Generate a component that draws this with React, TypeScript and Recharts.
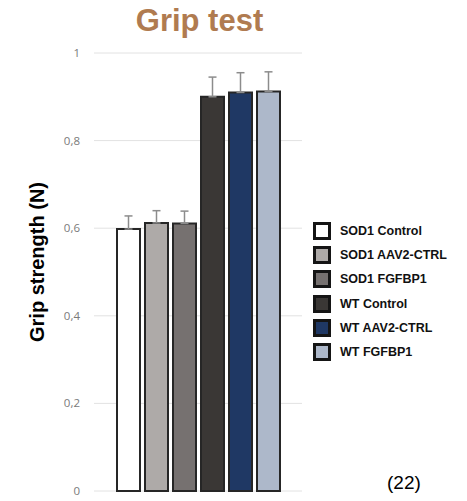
import { BarChart, Bar, XAxis, YAxis, CartesianGrid, ErrorBar } from "recharts";

const groups = [
  "SOD1 Control",
  "SOD1 AAV2-CTRL",
  "SOD1 FGFBP1",
  "WT Control",
  "WT AAV2-CTRL",
  "WT FGFBP1",
];
const means = [0.598, 0.612, 0.611, 0.9, 0.91, 0.912];
const errors = [0.03, 0.028, 0.028, 0.045, 0.045, 0.045];
const yTicks = [0, 0.2, 0.4, 0.6, 0.8, 1];

const fills = ["#ffffff", "#aeaaa8", "#767170", "#3a3735", "#1f3864", "#adb8ca"];

const row: Record<string, number | number[] | string> = { name: "Grip" };
groups.forEach((g, i) => {
  row[`s${i}`] = means[i];
  row[`e${i}`] = [0, errors[i]];
});
const data = [row];

const font = "'Liberation Sans', Arial, sans-serif";

export default function App() {
  return (
    <div style={{ position: "absolute", left: 0, top: 0, width: 467, height: 501, fontFamily: font }}>
      <BarChart
        width={467}
        height={501}
        data={data}
        margin={{ top: 53, right: 165, bottom: 10, left: 0 }}
        barSize={23}
        barGap={5}
      >
        <CartesianGrid vertical={false} stroke="#e2e2e2" strokeWidth={1} />
        <XAxis dataKey="name" tick={false} tickLine={false} height={0} axisLine={{ stroke: "#dcdcdc" }} />
        <YAxis
          width={94}
          domain={[0, 1]}
          ticks={yTicks}
          axisLine={false}
          tickLine={false}
          tickMargin={8}
          tick={{ fill: "#7a7a7a", fontSize: 11.5, fontFamily: "'Open Sans', sans-serif" }}
          tickFormatter={(v: number) => String(v).replace(".", ",")}
        />
        {groups.map((g, i) => (
          <Bar
            key={g}
            dataKey={`s${i}`}
            name={g}
            fill={fills[i]}
            stroke="#262626"
            strokeWidth={2}
            isAnimationActive={false}
          >
            <ErrorBar dataKey={`e${i}`} width={4} stroke="#8c8c8c" strokeWidth={1.5} direction="y" />
          </Bar>
        ))}
      </BarChart>

      <div
        style={{
          position: "absolute",
          left: 0,
          width: 399,
          top: 3,
          textAlign: "center",
          fontSize: 31,
          fontWeight: "bold",
          color: "#b07b50",
        }}
      >
        Grip test
      </div>

      <div
        style={{
          position: "absolute",
          left: 37,
          top: 262,
          transform: "translate(-50%, -50%) rotate(-90deg)",
          whiteSpace: "nowrap",
          fontSize: 20,
          fontWeight: "bold",
          color: "#000",
        }}
      >
        Grip strength (N)
      </div>

      {groups.map((g, i) => (
        <div
          key={g}
          style={{
            position: "absolute",
            left: 313,
            top: 222 + i * 24.2,
            height: 18,
            display: "flex",
            alignItems: "center",
            whiteSpace: "nowrap",
          }}
        >
          <div
            style={{
              width: 12,
              height: 12,
              border: "3px solid #151515",
              background: fills[i],
            }}
          />
          <span style={{ marginLeft: 9, fontSize: 12.5, fontWeight: "bold", color: "#111" }}>{g}</span>
        </div>
      ))}

      <div style={{ position: "absolute", left: 387, top: 472, fontSize: 19, color: "#000" }}>(22)</div>
    </div>
  );
}
